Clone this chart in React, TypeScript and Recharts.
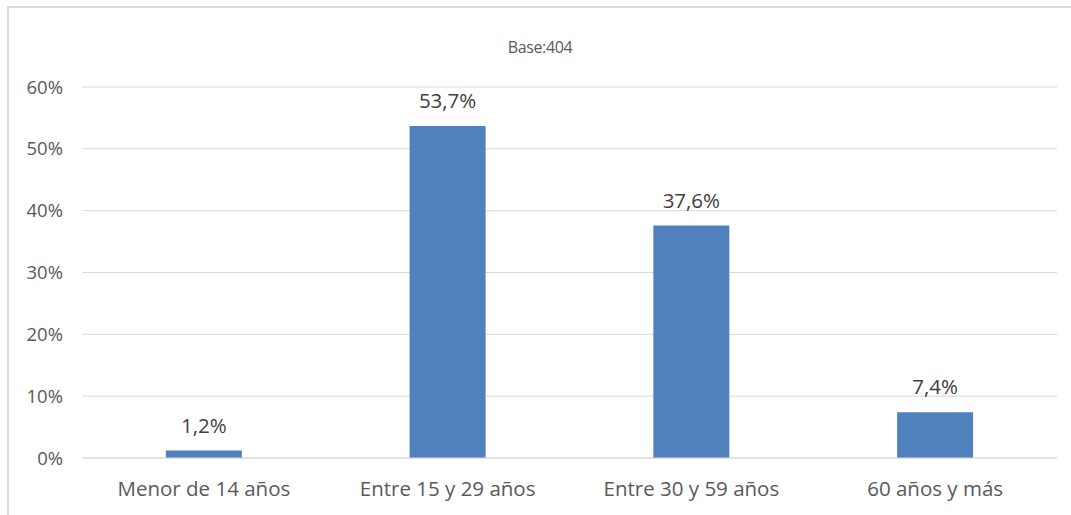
import { Bar, BarChart, CartesianGrid, LabelList, XAxis, YAxis } from 'recharts';

const categories = ['Menor de 14 años', 'Entre 15 y 29 años', 'Entre 30 y 59 años', '60 años y más'];
const shares = [1.2, 53.7, 37.6, 7.4];
const yTicks = [0, 10, 20, 30, 40, 50, 60];

const chartData = categories.map((name, i) => ({ name, value: shares[i] }));

const FONT = '"Open Sans", "Noto Sans", sans-serif';

export default function App() {
  return (
    <div style={{ position: 'absolute', left: 0, top: 0, width: 1071, height: 515, background: '#fff', fontFamily: FONT }}>
      <div
        style={{
          position: 'absolute',
          left: 7,
          top: 6,
          width: 1064,
          height: 509,
          borderTop: '2px solid #d9d9d9',
          borderLeft: '2px solid #d9d9d9',
        }}
      />
      <div
        style={{
          position: 'absolute',
          left: 0,
          width: 1080,
          top: 36,
          textAlign: 'center',
          fontSize: 16,
          color: '#595959',
          fontFamily: FONT,
          letterSpacing: -0.4,
        }}
      >
        Base:404
      </div>
      <BarChart
        width={1071}
        height={515}
        data={chartData}
        margin={{ top: 87, right: 14, left: 0, bottom: 0 }}
        barCategoryGap="34.4%"
        style={{ position: 'absolute', left: 0, top: 0 }}
      >
        <CartesianGrid vertical={false} stroke="#d9d9d9" strokeWidth={1} />
        <XAxis
          dataKey="name"
          height={57}
          axisLine={{ stroke: '#d9d9d9' }}
          tickLine={false}
          tickMargin={17}
          tick={{ fontSize: 20.5, fill: '#595959', fontFamily: FONT }}
          interval={0}
        />
        <YAxis
          width={82}
          domain={[0, 60]}
          ticks={yTicks}
          axisLine={false}
          tickLine={false}
          tickMargin={13}
          tickFormatter={(v: number) => `${v}%`}
          tick={{ fontSize: 18.5, fill: '#595959', fontFamily: FONT }}
        />
        <Bar dataKey="value" fill="#4f81bd" isAnimationActive={false}>
          <LabelList
            dataKey="value"
            position="top"
            offset={18}
            formatter={(v: number) => `${v.toFixed(1).replace('.', ',')}%`}
            style={{ fontSize: 20.5, fill: '#404040', fontFamily: FONT }}
          />
        </Bar>
      </BarChart>
    </div>
  );
}
